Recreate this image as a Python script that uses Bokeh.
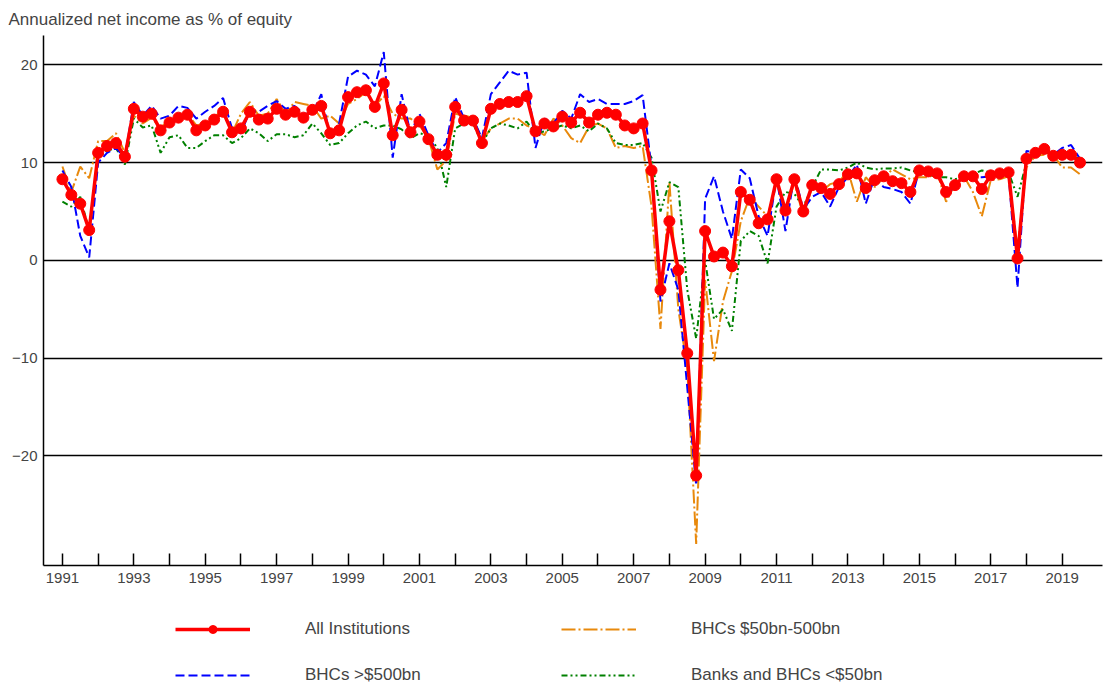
import numpy as np
from bokeh.plotting import figure
from bokeh.layouts import column
from bokeh.models import FixedTicker, Legend, LegendItem, Range1d
from bokeh.embed import file_html
from bokeh.resources import INLINE

# quarterly, 1991Q1 .. 2019Q3
all_inst = [8.3, 6.7, 5.8, 3.1, 11.0, 11.7, 12.0, 10.6, 15.5, 14.7, 15.0, 13.3,
            14.1, 14.6, 14.9, 13.3, 13.8, 14.4, 15.2, 13.1, 13.5, 15.2, 14.4, 14.5,
            15.5, 14.9, 15.2, 14.6, 15.4, 15.8, 13.0, 13.3, 16.7, 17.2, 17.4, 15.7,
            18.1, 12.8, 15.4, 13.1, 14.2, 12.4, 10.8, 10.8, 15.7, 14.3, 14.3, 12.0,
            15.5, 16.0, 16.2, 16.2, 16.8, 13.2, 14.0, 13.7, 14.7, 14.1, 15.1, 14.1,
            14.9, 15.1, 14.9, 13.8, 13.5, 14.0, 9.2, -3.0, 4.0, -1.0, -9.5, -22.0,
            3.0, 0.4, 0.8, -0.6, 7.0, 6.2, 3.8, 4.2, 8.3, 5.1, 8.3, 5.0,
            7.7, 7.4, 6.8, 7.8, 8.8, 8.9, 7.4, 8.2, 8.6, 8.1, 7.9, 7.0,
            9.2, 9.1, 8.9, 7.0, 7.7, 8.6, 8.6, 7.3, 8.7, 8.9, 9.0, 0.2,
            10.4, 11.0, 11.4, 10.7, 10.8, 10.8, 10.0]
bhc_large = [9.2, 7.5, 2.5, 0.3, 10.0, 11.0, 11.5, 10.5, 16.2, 14.8, 15.8, 14.5,
             14.8, 15.8, 15.6, 14.5, 15.2, 15.8, 16.6, 13.5, 13.0, 15.3, 15.2, 15.8,
             16.3, 15.5, 15.8, 15.0, 15.0, 17.0, 12.6, 14.0, 18.8, 19.4, 19.0, 17.8,
             21.3, 10.5, 17.0, 13.0, 15.0, 12.8, 11.0, 12.0, 16.7, 14.5, 14.5, 12.5,
             17.0, 18.2, 19.4, 19.0, 19.2, 11.5, 14.5, 14.0, 15.3, 14.5, 17.0, 16.2,
             16.5, 16.0, 16.0, 16.0, 16.3, 16.9, 9.5, -4.2, -0.3, -3.0, -13.0, -23.0,
             6.3, 8.6, 5.0, 2.2, 9.3, 8.4, 4.5, 2.5, 8.5, 3.0, 8.8, 5.2,
             6.5, 7.0, 5.5, 7.5, 8.5, 9.8, 5.8, 8.5, 7.5, 7.3, 7.0, 5.8,
             9.3, 9.2, 9.0, 6.8, 7.5, 8.8, 8.5, 8.5, 8.6, 8.8, 8.8, -2.8,
             11.2, 11.0, 11.3, 10.8, 11.5, 11.8, 10.4]
bhc_mid = [9.6, 7.0, 9.6, 8.4, 12.2, 12.2, 13.0, 11.0, 14.8, 14.0, 14.6, 13.5,
           14.5, 14.8, 15.0, 13.8, 14.0, 14.6, 15.5, 13.0, 15.0, 16.2, 14.8, 15.0,
           16.5, 15.0, 16.2, 16.0, 15.8, 14.5, 14.8, 14.0, 16.0, 16.5, 17.2, 15.8,
           16.8, 15.0, 14.5, 14.5, 13.8, 12.5, 9.3, 10.2, 15.0, 14.8, 14.6, 12.2,
           13.5, 14.0, 14.5, 14.5, 13.8, 13.4, 12.8, 14.5, 13.8, 12.5, 12.0, 13.7,
           14.0, 13.5, 11.5, 11.7, 11.5, 11.7, 5.5, -7.0, 8.0, -5.0, -11.0, -29.0,
           -2.0, -10.3, -4.2, -1.1, 4.0, 6.5, 5.5, 4.5, 8.0, 5.0, 8.0, 4.5,
           7.5, 7.0, 7.8, 8.0, 9.2, 6.0, 8.5, 7.5, 8.5, 9.3, 8.8, 8.3,
           8.5, 8.5, 9.0, 6.0, 7.8, 8.6, 7.0, 4.5, 8.2, 8.3, 8.6, 1.2,
           9.5, 10.7, 10.8, 10.8, 9.5, 9.5, 8.8]
banks_small = [6.0, 5.5, 6.5, 3.0, 10.5, 11.2, 11.5, 9.8, 14.5, 13.6, 13.8, 11.0,
               12.6, 12.8, 11.5, 11.5, 12.2, 12.8, 12.8, 12.0, 12.5, 13.5, 13.0, 12.2,
               12.9, 12.9, 12.6, 12.8, 14.0, 13.0, 11.8, 12.0, 13.0, 13.8, 14.2, 13.5,
               13.8, 13.8, 13.4, 12.5, 13.0, 12.8, 11.5, 7.5, 13.5, 14.0, 14.0, 12.0,
               13.5, 14.0, 13.8, 13.5, 14.2, 13.0, 13.2, 13.5, 13.8, 13.5, 13.8, 13.2,
               14.0, 13.5, 12.0, 11.8, 11.8, 12.0, 10.5, 5.0, 8.0, 7.5, -3.0, -8.0,
               0.0, -6.0, -5.0, -7.2, 2.0, 3.0, 2.5, -0.3, 5.5, 7.0, 6.8, 5.5,
               7.5, 9.3, 9.3, 9.2, 9.5, 10.0, 9.5, 9.3, 9.4, 9.4, 9.5, 9.2,
               9.0, 8.8, 8.5, 8.5, 8.3, 8.6, 8.8, 9.2, 9.0, 9.3, 9.0, 6.5,
               10.0, 10.8, 11.0, 11.0, 10.7, 10.5, 10.5]
t = 1991 + np.arange(len(all_inst)) / 4.0
label_years = list(range(1991, 2020, 2))
other_years = list(range(1992, 2020, 2))

FONT = "Liberation Sans"
STYLES = {
    "mid": dict(color="#e8890c", line_width=2, line_dash="14 3 2 3"),
    "small": dict(color="green", line_width=2, line_dash="6 3 2 3 2 3"),
    "large": dict(color="blue", line_width=2, line_dash="9 4"),
    "all": dict(color="red", line_width=3.5),
}

p = figure(frame_width=1059, frame_height=530, output_backend="svg", toolbar_location=None,
           x_range=Range1d(1990.47, 2020.13), y_range=Range1d(-31.2, 23),
           title="Annualized net income as % of equity",
           min_border_left=43, min_border_right=2, min_border_top=0, min_border_bottom=0)
p.title.text_font = FONT
p.title.text_font_size = "17px"
p.title.text_font_style = "normal"
p.title.offset = -35
p.title.standoff = 14
p.outline_line_color = None
p.xgrid.grid_line_color = None
p.ygrid.grid_line_color = "black"
p.ygrid.grid_line_width = 1.5
p.ygrid.ticker = FixedTicker(ticks=[-20, -10, 0, 10, 20])

p.yaxis.ticker = FixedTicker(ticks=[-20, -10, 0, 10, 20])
p.yaxis.major_tick_out = 0
p.yaxis.minor_tick_line_color = None
p.yaxis.axis_line_width = 1.5
p.yaxis.major_label_text_font = FONT
p.yaxis.major_label_text_font_size = "15px"
p.yaxis.major_label_standoff = 6

p.xaxis.ticker = FixedTicker(ticks=label_years, minor_ticks=other_years)
p.xaxis.major_tick_in = 12
p.xaxis.major_tick_out = 0
p.xaxis.minor_tick_in = 12
p.xaxis.minor_tick_out = 0
p.xaxis.major_tick_line_width = 1.5
p.xaxis.minor_tick_line_width = 1.5
p.xaxis.minor_tick_line_color = "black"
p.xaxis.axis_line_width = 1.5
p.xaxis.major_label_text_align = "left"
p.xaxis.major_label_text_font = FONT
p.xaxis.major_label_text_font_size = "15px"
p.xaxis.major_label_standoff = 7

p.line(t, bhc_mid, **STYLES["mid"])
p.line(t, banks_small, **STYLES["small"])
p.line(t, bhc_large, **STYLES["large"])
p.line(t, all_inst, **STYLES["all"])
p.scatter(t, all_inst, size=11, color="red")

# legend lives in its own strip under the chart; its renderers sit off-range
lg = figure(width=1104, height=100, output_backend="svg", toolbar_location=None,
            x_range=Range1d(0, 1), y_range=Range1d(0, 1),
            min_border=0)
lg.axis.visible = False
lg.grid.visible = False
lg.outline_line_color = None
off = [5, 6]
l_mid = lg.line(off, off, **STYLES["mid"])
l_small = lg.line(off, off, **STYLES["small"])
l_large = lg.line(off, off, **STYLES["large"])
l_all = lg.line(off, off, **STYLES["all"])
l_pts = lg.scatter(off, off, size=11, color="red")

legend = Legend(items=[
    LegendItem(label="All Institutions", renderers=[l_all, l_pts]),
    LegendItem(label="BHCs >$500bn", renderers=[l_large]),
    LegendItem(label="BHCs $50bn-500bn", renderers=[l_mid]),
    LegendItem(label="Banks and BHCs <$50bn", renderers=[l_small]),
], ncols=2, glyph_width=75, label_text_font=FONT, label_text_font_size="17px",
    label_width=230, spacing=26, label_standoff=55, border_line_color=None,
    background_fill_alpha=0, location=(132, 0), margin=0, padding=0)
lg.add_layout(legend)

open("out.html", "w").write(file_html(column(p, lg, spacing=0), INLINE))
